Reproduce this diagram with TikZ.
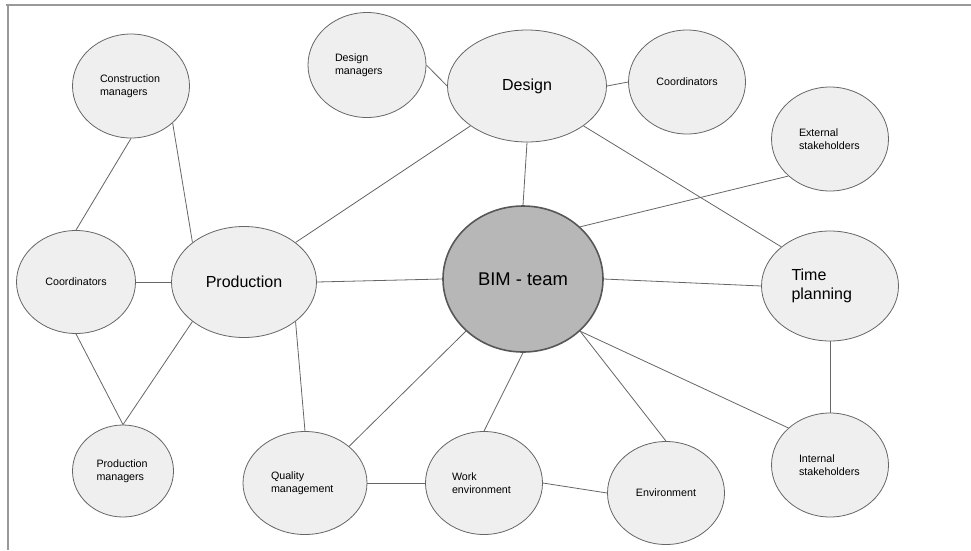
\documentclass[tikz,border=0pt]{standalone}
\usepackage{fontspec}
\setmainfont{Liberation Sans}
\usepackage{xcolor}
\usepackage{tikz}
\usetikzlibrary{shapes.geometric}

\definecolor{bubblefill}{HTML}{EFEFEF}
\definecolor{bimfill}{HTML}{B7B7B7}
\definecolor{rim}{HTML}{666666}
\definecolor{framegray}{HTML}{999999}

\tikzset{
    bubble/.style={ellipse, draw=rim, line width=0.8pt, fill=bubblefill, inner sep=0pt,
        minimum width=117pt, minimum height=104pt, font=\fontsize{10.7}{12.9}\selectfont},
    lines/.style={align=left, text width=#1},
    big/.style={font=\fontsize{16}{19.5}\selectfont},
    link/.style={draw=rim, line width=0.8pt},
}

\begin{document}
\begin{tikzpicture}[x=1pt, y=-1pt]
    \useasboundingbox (0,0) rectangle (971,550);

    % Frame
    \draw[framegray, line width=2.5pt] (6,5) -- (971,5);
    \draw[framegray, line width=2.5pt] (8,5) -- (8,550);

    % Production side
    \node[bubble, lines=62pt] (cman) at (131,86) {Construction\\managers};
    \node[bubble, minimum width=119pt, minimum height=103pt] (pcoord) at (76,282) {Coordinators};
    \node[bubble, big, minimum width=145pt, minimum height=111pt] (prod) at (244,282) {Production};
    \node[bubble, lines=53pt, minimum width=101pt, minimum height=92pt] (pman) at (123,471) {Production\\managers};

    % Design side
    \node[bubble, lines=64pt, minimum width=118pt, minimum height=105pt] (dman) at (367,65) {Design\\managers};
    \node[bubble, big, minimum width=159pt, minimum height=112pt] (design) at (527,86) {Design};
    \node[bubble] (dcoord) at (687,82) {Coordinators};

    % Centre
    \node[bubble, fill=bimfill, draw=rim!85!black, line width=1.6pt, minimum width=160pt, minimum height=146pt,
        font=\fontsize{18.4}{22}\selectfont] (bim) at (523,279) {BIM - team};

    % Right side
    \node[bubble, lines=62pt] (ext) at (830,139) {External\\stakeholders};
    \node[bubble, big, lines=77pt, minimum width=137pt, minimum height=110pt] (time) at (830,286) {Time\\planning};
    \node[bubble, lines=62pt] (intl) at (830,465) {Internal\\stakeholders};

    % Bottom row
    \node[bubble, lines=68pt, minimum width=124pt, minimum height=103pt] (qm) at (305,483) {Quality\\management};
    \node[bubble, lines=64pt, minimum height=103pt] (work) at (484,483) {Work\\environment};
    \node[bubble, minimum height=103pt] (env) at (666,493) {Environment};

    % Links
    \draw[link] (cman.south) -- (pcoord.north);
    \draw[link] (cman.south east) -- (prod.north west);
    \draw[link] (pcoord.east) -- (prod.west);
    \draw[link] (pcoord.south) -- (pman.north);
    \draw[link] (prod.south west) -- (pman.north);
    \draw[link] (prod.south east) -- (qm.north);
    \draw[link] (prod.north east) -- (design.south west);
    \draw[link] (prod.east) -- (bim.west);
    \draw[link] (dman.east) -- (design.west);
    \draw[link] (design.east) -- (dcoord.west);
    \draw[link] (design.south) -- (bim.north);
    \draw[link] (design.south east) -- (time.north west);
    \draw[link] (ext.south west) -- (bim.north east);
    \draw[link] (bim.east) -- (time.west);
    \draw[link] (bim.south west) -- (qm.north east);
    \draw[link] (bim.south) -- (work.north);
    \draw[link] (bim.south east) -- (env.north);
    \draw[link] (bim.south east) -- (intl.north west);
    \draw[link] (time.south) -- (intl.north);
    \draw[link] (qm.east) -- (work.west);
    \draw[link] (work.east) -- (env.west);
\end{tikzpicture}
\end{document}
